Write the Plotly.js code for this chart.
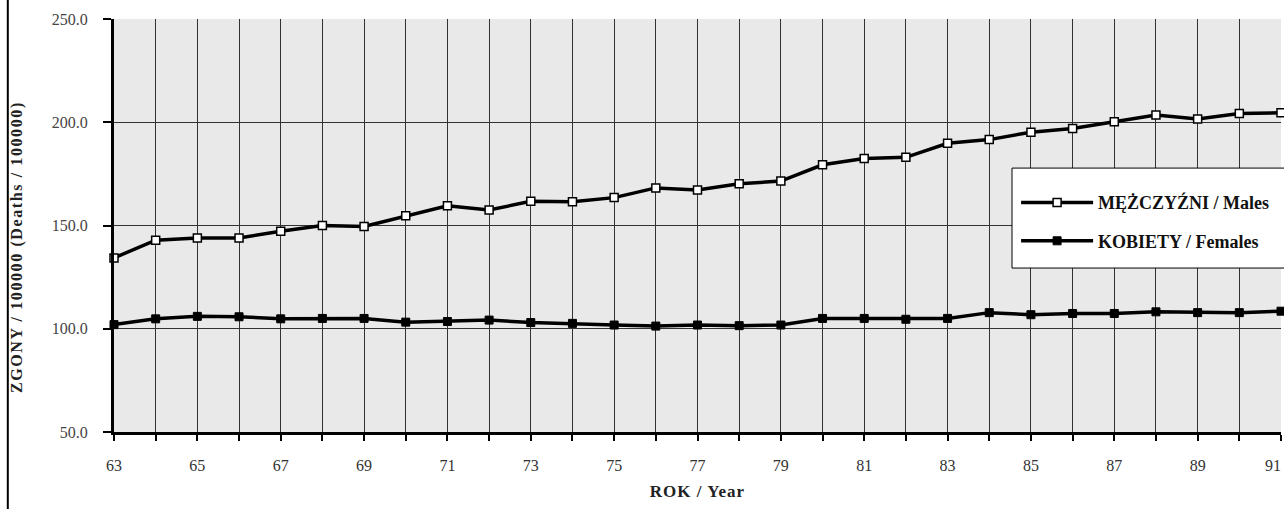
<!DOCTYPE html>
<html>
<head>
<meta charset="utf-8">
<script src="https://cdn.plot.ly/plotly-3.0.1.min.js"></script>
<style>
html,body{margin:0;padding:0;background:#fff;}
#chart{width:1284px;height:509px;}
.annotation-text{letter-spacing:1.6px;}
.xtitle{letter-spacing:1px;}
</style>
</head>
<body>
<div id="chart"></div>
<script>
const years = [63,64,65,66,67,68,69,70,71,72,73,74,75,76,77,78,79,80,81,82,83,84,85,86,87,88,89,90,91];
const males = [134.3,142.9,144.0,144.0,147.2,150.0,149.5,154.7,159.6,157.5,161.7,161.5,163.5,168.2,167.2,170.2,171.5,179.4,182.4,183.0,189.8,191.6,195.2,197.0,200.3,203.5,201.6,204.2,204.6];
const females = [102.0,104.8,106.0,105.8,104.8,105.0,105.0,103.2,103.5,104.2,103.0,102.6,101.8,101.3,101.8,101.5,101.8,105.0,105.0,104.6,105.0,107.8,106.8,107.4,107.4,108.2,107.8,107.8,108.5];
const xTickVals = [63,65,67,69,71,73,75,77,79,81,83,85,87,89,91];
const xTickText = ['63','65','67','69','71','73','75','77','79','81','83','85','87','89','91\u2007\u2007'];
const yTicks = [50,100,150,200,250];
const yTickText = ['50.0','100.0','150.0','200.0','250.0'];
const maleName = '<b>MĘŻCZYŹNI / Males</b>';
const femaleName = '<b>KOBIETY / Females</b>';
const yTitle = '<b>ZGONY / 100000 (Deaths / 100000)</b>';
const xTitle = '<b>ROK / Year</b>';

const serif = '"Liberation Serif", "Times New Roman", "DejaVu Serif", serif';

const traces = [
  {x: years, y: males, name: maleName, type: 'scatter', mode: 'lines+markers', legendgroup: 'm',
   line: {color: '#000', width: 3.5},
   marker: {symbol: 'square', size: 8, color: '#fff', line: {color: '#000', width: 1.5}},
   cliponaxis: false},
  {x: years, y: females, name: femaleName, type: 'scatter', mode: 'lines+markers', legendgroup: 'f',
   line: {color: '#000', width: 3.5},
   marker: {symbol: 'square', size: 8, color: '#000', line: {color: '#000', width: 1}},
   cliponaxis: false}
];

const layout = {
  width: 1284, height: 509,
  margin: {l: 114, r: 3, t: 19, b: 77},
  paper_bgcolor: '#fff',
  plot_bgcolor: '#e9e9e9',
  font: {family: serif, color: '#222', size: 13},
  showlegend: true,
  legend: {
    x: 0.773, y: 0.6, xanchor: 'left', yanchor: 'top',
    bgcolor: 'rgba(0,0,0,0)', borderwidth: 0,
    font: {family: serif, size: 18, color: '#111'},
    itemwidth: 72, traceorder: 'grouped', tracegroupgap: 12,
    itemclick: false
  },
  xaxis: {
    range: [63, 91], tickmode: 'array', tickvals: xTickVals, ticktext: xTickText,
    showgrid: true, gridcolor: '#333', gridwidth: 1,
    ticks: 'outside', ticklen: 6, tickwidth: 2, tickcolor: '#000',
    minor: {dtick: 1, tick0: 63, tickmode: 'linear', showgrid: true, gridcolor: '#333', gridwidth: 1, ticks: 'outside', ticklen: 6, tickwidth: 2, tickcolor: '#000'},
    showline: true, linecolor: '#000', linewidth: 3,
    zeroline: false,
    ticklabeloverflow: 'allow',
    ticklabelstandoff: 11,
    tickfont: {family: serif, size: 16, color: '#333'},
    title: {text: xTitle, font: {family: serif, size: 17, color: '#222'}, standoff: 12}
  },
  yaxis: {
    range: [50, 250], tickmode: 'array', tickvals: yTicks, ticktext: yTickText,
    showgrid: true, gridcolor: '#333', gridwidth: 1,
    ticks: 'outside', ticklen: 8, tickwidth: 2, tickcolor: '#000',
    showline: true, linecolor: '#000', linewidth: 3,
    zeroline: false,
    ticklabelstandoff: 12,
    tickfont: {family: serif, size: 16, color: '#444'}
  },
  annotations: [
    {text: yTitle, xref: 'paper', yref: 'paper', x: -0.083, y: 0.448, xanchor: 'center', yanchor: 'middle',
     textangle: -90, showarrow: false, font: {family: serif, size: 16, color: '#222'}}
  ],
  shapes: [
    {type: 'line', xref: 'paper', yref: 'paper', x0: -0.091, x1: -0.091, y0: -0.19, y1: 1.05, line: {color: '#000', width: 2}},
    {type: 'rect', xref: 'paper', yref: 'paper', layer: 'above', x0: 0.7695, x1: 1.004, y0: 0.397, y1: 0.639,
     fillcolor: '#fff', line: {color: '#000', width: 1}}
  ]
};

Plotly.newPlot('chart', traces, layout, {displayModeBar: false, staticPlot: true});
</script>
</body>
</html>
